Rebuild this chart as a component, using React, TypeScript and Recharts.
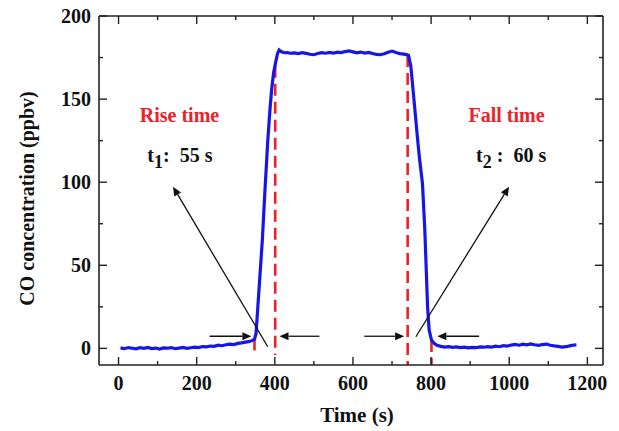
import { LineChart, Line, XAxis, YAxis, ReferenceLine, ReferenceDot } from "recharts";

// time (s) of each sample
const times = [
  5, 15, 25, 35, 45, 55, 65, 75, 85, 95, 105, 115, 125, 135, 145, 155, 165, 175, 185, 195,
  205, 215, 225, 235, 245, 255, 265, 275, 285, 295, 305, 315, 325, 335, 343, 348,
  352, 360, 368, 375, 382, 388, 392, 397, 402, 407, 411,
  416, 424, 432, 440, 450, 460, 470, 480, 490, 500, 510, 520, 530, 540, 550, 560, 570, 580,
  590, 600, 610, 620, 630, 640, 650, 660, 670, 680, 690, 700, 710, 720, 730, 737, 742,
  748, 758, 765, 770, 778, 784, 791, 795, 801, 808, 815,
  825, 835, 845, 855, 865, 875, 885, 895, 905, 915, 925, 935, 945, 955, 965, 975, 985, 995,
  1005, 1015, 1025, 1035, 1045, 1055, 1065, 1075, 1085, 1095, 1105, 1115, 1125, 1135, 1145,
  1155, 1165, 1172,
];

// CO concentration (ppbv)
const conc = [
  0.3, -0.2, 0.5, 0.1, -0.3, 0.4, 0.0, 0.6, -0.1, 0.2, -0.4, 0.3, 0.1, 0.5, -0.2, 0.2, 0.6, 0.0, 0.4, 0.8,
  0.5, 1.1, 0.9, 1.4, 1.2, 1.9, 1.6, 2.2, 2.6, 2.3, 3.0, 3.3, 3.8, 4.2, 4.8, 5.5,
  9, 37, 65, 96, 125, 145, 156, 166, 172, 177.5, 179.5,
  178.6, 177.9, 178.0, 177.6, 177.8, 177.4, 177.9, 177.5, 177.0, 176.7, 177.4, 177.9, 177.6, 178.1, 177.7, 178.2, 178.0, 178.6,
  179.0, 178.4, 177.8, 178.3, 177.7, 178.1, 177.4, 176.9, 176.7, 177.3, 178.2, 178.9, 178.0, 177.4, 177.1, 176.8, 176.4,
  170, 145, 127, 115, 99, 71, 25, 11, 5, 3, 1.8,
  1.2, 0.8, 1.0, 0.6, 0.9, 0.5, 0.7, 0.3, 0.6, 0.4, 0.9, 0.7, 1.1, 0.8, 1.3, 1.0, 1.6, 1.4,
  2.0, 2.4, 1.9, 2.5, 2.1, 2.7, 2.2, 1.8, 2.3, 2.6, 1.9, 1.5, 1.2, 0.8, 1.0,
  1.5, 2.0, 2.2,
];

const xTicks = [0, 100, 200, 300, 400, 500, 600, 700, 800, 900, 1000, 1100, 1200];
const yTicks = [0, 25, 50, 75, 100, 125, 150, 175, 200];

// red dashed markers: time, top, bottom
const markerTimes = [348, 401, 740, 801];
const markerTops = [6, 170, 176.5, 5];
const markerBottoms = [-4, -4, -10, -10];

// arrows, tail -> head, in (time, ppbv)
const arrowTails = [[233, 7.3], [514, 7.3], [629, 7.3], [923, 7.3], [382, 1], [761, 7]];
const arrowHeads = [[340, 7.3], [412, 7.3], [731, 7.3], [816, 7.3], [139.5, 97.3], [999.5, 97.3]];

const data = times.map((t, i) => ({ t, c: conc[i] }));

const FONT = "'Liberation Serif', 'Times New Roman', serif";
const RED = "#e8232b";
const AXIS = "#222";

const XTick = (props: any) => {
  const { x, y, payload, top } = props;
  const major = payload.value % 200 === 0;
  const len = major ? 8 : 4;
  const dir = top ? 1 : -1;
  return (
    <g>
      <line x1={x} y1={y} x2={x} y2={y + dir * len} stroke={AXIS} strokeWidth={1.4} />
      {!top && major && (
        <text x={x} y={y + 25} textAnchor="middle" fontFamily={FONT} fontWeight="bold" fontSize={20} fill="#111">
          {payload.value}
        </text>
      )}
    </g>
  );
};

const YTick = (props: any) => {
  const { x, y, payload, right } = props;
  const major = payload.value % 50 === 0;
  const len = major ? 8 : 4;
  const dir = right ? -1 : 1;
  return (
    <g>
      <line x1={x} y1={y} x2={x + dir * len} y2={y} stroke={AXIS} strokeWidth={1.4} />
      {!right && major && (
        <text x={x - 8} y={y} dy="0.35em" textAnchor="end" fontFamily={FONT} fontWeight="bold" fontSize={20} fill="#111">
          {payload.value}
        </text>
      )}
    </g>
  );
};

const Arrow = (props: any) => {
  const { x1, y1, x2, y2 } = props;
  const dx = x2 - x1;
  const dy = y2 - y1;
  const l = Math.sqrt(dx * dx + dy * dy) || 1;
  const ux = dx / l;
  const uy = dy / l;
  const hl = 9;
  const hw = 4;
  const bx = x2 - ux * hl;
  const by = y2 - uy * hl;
  return (
    <g>
      <line x1={x1} y1={y1} x2={bx} y2={by} stroke="#111" strokeWidth={1.3} />
      <polygon
        points={`${x2},${y2} ${bx - uy * hw},${by + ux * hw} ${bx + uy * hw},${by - ux * hw}`}
        fill="#111"
      />
    </g>
  );
};

const Label = (text: any, color: string) => (props: any) => (
  <text
    x={props.cx}
    y={props.cy}
    textAnchor="middle"
    fontFamily={FONT}
    fontWeight="bold"
    fontSize={20}
    fill={color}
    style={{ whiteSpace: "pre" }}
  >
    {text}
  </text>
);

export default function App() {
  return (
    <div style={{ position: "absolute", left: 0, top: 0, background: "#fff" }}>
      <LineChart width={619} height={431} data={data} margin={{ top: 15, right: 15, bottom: 0, left: 0 }}>
        <XAxis
          dataKey="t"
          type="number"
          domain={[-50, 1240]}
          allowDataOverflow
          ticks={xTicks}
          interval={0}
          height={66}
          tickSize={0}
          tickMargin={0}
          stroke={AXIS}
          axisLine={{ stroke: AXIS, strokeWidth: 1.6 }}
          tick={<XTick />}
          label={{
            content: (p: any) => (
              <text
                x={p.viewBox.x + p.viewBox.width / 2 + 6}
                y={p.viewBox.y + 57}
                textAnchor="middle"
                fontFamily={FONT}
                fontWeight="bold"
                fontSize={21}
                fill="#111"
              >
                Time (s)
              </text>
            ),
          }}
        />
        <XAxis
          xAxisId="top"
          orientation="top"
          dataKey="t"
          type="number"
          domain={[-50, 1240]}
          allowDataOverflow
          ticks={xTicks}
          interval={0}
          height={1}
          tickSize={0}
          tickMargin={0}
          axisLine={{ stroke: AXIS, strokeWidth: 1.6 }}
          tick={<XTick top />}
        />
        <YAxis
          type="number"
          domain={[-10, 200]}
          allowDataOverflow
          ticks={yTicks}
          interval={0}
          width={99}
          tickSize={0}
          tickMargin={0}
          axisLine={{ stroke: AXIS, strokeWidth: 1.6 }}
          tick={<YTick />}
          label={{
            content: (p: any) => {
              const cx = p.viewBox.x + 27;
              const cy = p.viewBox.y + p.viewBox.height / 2 + 8;
              return (
                <text
                  x={cx}
                  y={cy}
                  transform={`rotate(-90 ${cx} ${cy})`}
                  textAnchor="middle"
                  dominantBaseline="central"
                  fontFamily={FONT}
                  fontWeight="bold"
                  fontSize={20}
                  fill="#111"
                >
                  CO concentration (ppbv)
                </text>
              );
            },
          }}
        />
        <YAxis
          yAxisId="right"
          orientation="right"
          type="number"
          domain={[-10, 200]}
          allowDataOverflow
          ticks={yTicks}
          interval={0}
          width={1}
          tickSize={0}
          tickMargin={0}
          axisLine={{ stroke: AXIS, strokeWidth: 1.6 }}
          tick={<YTick right />}
        />

        {markerTimes.map((t, i) => (
          <ReferenceLine
            key={`m${i}`}
            segment={[
              { x: t, y: markerTops[i] },
              { x: t, y: markerBottoms[i] },
            ]}
            stroke={RED}
            strokeWidth={2.6}
            strokeDasharray="12 6"
          />
        ))}

        <Line
          type="linear"
          dataKey="c"
          stroke="#1616e6"
          strokeWidth={3.2}
          dot={false}
          isAnimationActive={false}
        />

        {arrowTails.map((tail, i) => (
          <ReferenceLine
            key={`a${i}`}
            segment={[
              { x: tail[0], y: tail[1] },
              { x: arrowHeads[i][0], y: arrowHeads[i][1] },
            ]}
            shape={<Arrow />}
          />
        ))}

        <ReferenceDot x={156} y={136.5} r={0} shape={Label("Rise time", RED)} />
        <ReferenceDot x={993} y={136.5} r={0} shape={Label("Fall time", RED)} />
        <ReferenceDot
          x={157}
          y={112.4}
          r={0}
          shape={Label(
            <>
              <tspan>t</tspan>
              <tspan dy={6} fontSize={18}>1</tspan>
              <tspan dy={-6}>:  55 s</tspan>
            </>,
            "#111"
          )}
        />
        <ReferenceDot
          x={1005}
          y={112.4}
          r={0}
          shape={Label(
            <>
              <tspan>t</tspan>
              <tspan dy={6} fontSize={18}>2</tspan>
              <tspan dy={-6}> :  60 s</tspan>
            </>,
            "#111"
          )}
        />
      </LineChart>
    </div>
  );
}
